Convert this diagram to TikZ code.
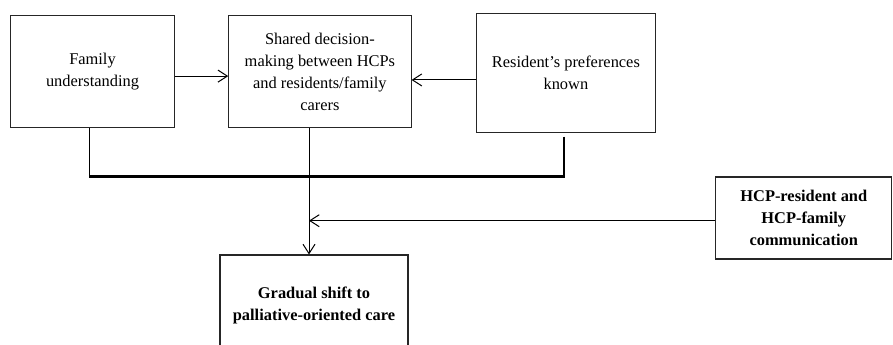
\documentclass[tikz,border=0pt]{standalone}
\usepackage{fontspec}
\setmainfont{Liberation Serif}
\usetikzlibrary{arrows.meta}

\begin{document}
\begin{tikzpicture}[x=0.75pt,y=-0.75pt,
	box/.style={draw=black!85,line width=0.8pt,align=center,inner sep=2pt,
		font=\fontsize{12.3}{16.5}\selectfont},
	arr/.style={line width=0.75pt,-{Straight Barb[length=7pt,width=9pt,line width=0.75pt]}},
	link/.style={line width=0.75pt},
	bar/.style={line width=1.6pt}]
			\useasboundingbox (0,0) rectangle (893,344);
			\node[box,minimum width=122.7pt,minimum height=84pt] (family) at (92.5,71.7) {Family\\understanding};
			\node[box,minimum width=136.7pt,minimum height=83.9pt] (shared) at (319.9,71.6) {Shared decision-\\making between HCPs\\and residents/family\\carers};
			\node[box,minimum width=133.7pt,minimum height=89.6pt] (prefs) at (565.9,73) {Resident's preferences\\known};
			\node[box,minimum width=132.2pt,minimum height=61.5pt,font=\fontsize{12.3}{16.5}\selectfont\bfseries] (comm) at (803.8,218) {HCP-resident and\\HCP-family\\communication};
			\node[box,minimum width=141pt,minimum height=75pt,font=\fontsize{12.3}{16.5}\selectfont\bfseries] (shift) at (314,305) {Gradual shift to\\palliative-oriented care};
			\coordinate (barL) at (89.3,176.5);
			\coordinate (barR) at (564,176.5);
			\coordinate (mid) at (309,220.7);
			\draw[arr] ([yshift=-3.3pt]family.east) -- ([yshift=-3.3pt]family.east -| shared.west);
			\draw[arr] ([yshift=-5.2pt]prefs.west) -- ([yshift=-5.2pt]prefs.west -| shared.east);
			\draw[link] (family.south -| barL) -- (barL);
			\draw[bar] ([yshift=-2.5pt]prefs.south -| barR) -- (barR) -- (barL);
			\draw[arr] (shared.south -| mid) -- (shift.north -| mid);
			\draw[arr] (comm.west |- mid) -- (mid);
	\end{tikzpicture}
\end{document}
